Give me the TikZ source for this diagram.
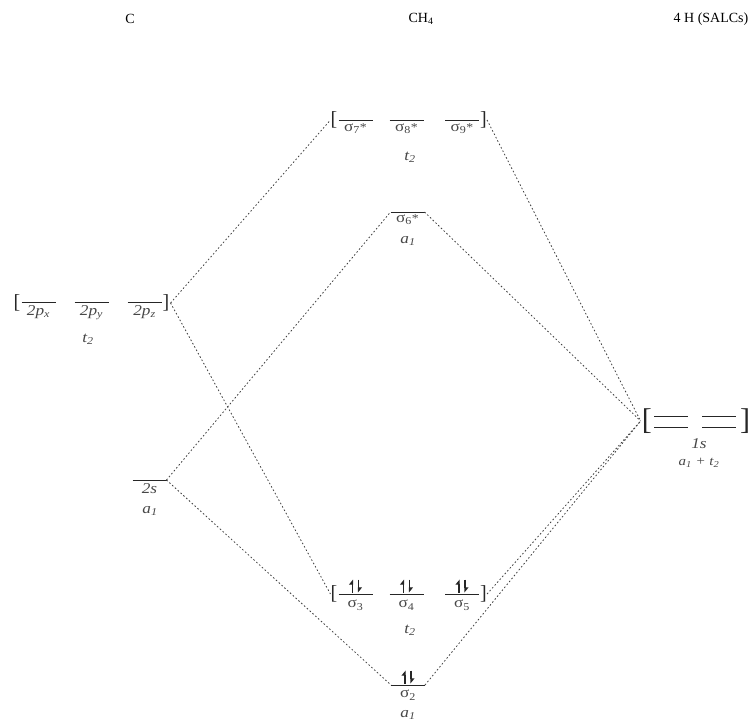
\documentclass[tikz,border=0pt]{standalone}
\usepackage{fontspec}
\setmainfont{Liberation Serif}
\newfontfamily\labfont[FakeStretch=1.15]{Liberation Serif}
\usetikzlibrary{arrows.meta}
\newcommand\mylevel[5]{%
  \node[lvlnode] (#1) at (#2,#3) {};
  \draw[lvl] (#1.west) -- (#1.east);
  \node[lab, anchor=north] (#1lab) at ([yshift=-#5]#1.south) {#4};}
\newcommand\mypair[1]{%
  \draw[spin] ([xshift=-3pt,yshift=1.5pt]#1.center) -- ++(0,13pt);
  \draw[spin] ([xshift=3pt,yshift=14.5pt]#1.center) -- ++(0,-13pt);}
\newcommand\st{{\fontsize{12}{12}\selectfont *}}
\begin{document}
\begin{tikzpicture}[x=1pt,y=-1pt,
  lvlnode/.style={minimum width=34pt, minimum height=0pt, inner sep=0pt, outer sep=0pt},
  lvl/.style={line width=0.9pt, draw=black!85},
  conn/.style={dash pattern=on 1.6pt off 2.2pt, line width=0.8pt, draw=black!75},
  lab/.style={font=\labfont\fontsize{15}{16}\selectfont, text=black!72, inner sep=0pt},
  sym/.style={font=\labfont\fontsize{15}{16}\selectfont, text=black!72, inner sep=0pt},
  title/.style={font=\fontsize{14}{16}\selectfont, inner sep=0pt},
  brk/.style={font=\fontsize{20}{20}\selectfont, inner sep=0pt, text=black!85},
  bigbrk/.style={font=\fontsize{30}{30}\selectfont, inner sep=0pt, text=black!85},
  spin/.style={line width=1.1pt, draw=black!85, -{Triangle[left,length=4.5pt,width=7pt]}},
]
\useasboundingbox (0,0) rectangle (752,726);
\node[title] (tC) at (130,19) {C};
\node[title] (tCH) at (421,19) {CH\textsubscript{4}};
\node[title] (tH) at (711,19) {4 H (SALCs)};
% Carbon 2p
\mylevel{px}{38.5}{302}{\textit{2p\textsubscript{x}}}{3pt}
\mylevel{py}{91.5}{302}{\textit{2p\textsubscript{y}}}{3pt}
\mylevel{pz}{144.5}{302}{\textit{2p\textsubscript{z}}}{3pt}
\node[brk, anchor=east] (pL) at ([xshift=-1pt,yshift=-1pt]px.west) {[};
\node[brk, anchor=west] (pR) at ([xshift=1pt,yshift=-1pt]pz.east) {]};
\node[sym] (pt) at (88,339) {\textit{t\textsubscript{2}}};
% Carbon 2s
\mylevel{s2}{149.5}{480}{\textit{2s}}{3pt}
\node[sym] (s2sym) at (150,511) {\textit{a\textsubscript{1}}};
% antibonding t2
\mylevel{a7}{355.5}{120}{σ\textsubscript{7}\st}{3pt}
\mylevel{a8}{406.5}{120}{σ\textsubscript{8}\st}{3pt}
\mylevel{a9}{462}{120}{σ\textsubscript{9}\st}{3pt}
\node[brk, anchor=east] (aL) at ([xshift=-1pt]a7.west) {[};
\node[brk, anchor=west] (aR) at ([xshift=1pt]a9.east) {]};
\node[sym] (at) at (410,157) {\textit{t\textsubscript{2}}};
% antibonding a1
\mylevel{a6}{407.5}{212}{σ\textsubscript{6}\st}{2pt}
\node[sym] (a6sym) at (408,241) {\textit{a\textsubscript{1}}};
% bonding t2
\mylevel{b3}{355.5}{594}{σ\textsubscript{3}}{6pt}
\mylevel{b4}{406.5}{594}{σ\textsubscript{4}}{6pt}
\mylevel{b5}{462}{594}{σ\textsubscript{5}}{6pt}
\mypair{b3}\mypair{b4}\mypair{b5}
\node[brk, anchor=east] (bL) at ([xshift=-1pt]b3.west) {[};
\node[brk, anchor=west] (bR) at ([xshift=1pt]b5.east) {]};
\node[sym] (bt) at (410,630) {\textit{t\textsubscript{2}}};
% bonding a1
\mylevel{b2}{408}{685}{σ\textsubscript{2}}{5pt}
\mypair{b2}
\node[sym] (b2sym) at (408,715) {\textit{a\textsubscript{1}}};
% hydrogen SALCs
\node[lvlnode, minimum width=34pt] (h1) at (671,416) {};
\node[lvlnode, minimum width=34pt] (h2) at (671,427) {};
\node[lvlnode, minimum width=34pt] (h3) at (719,416) {};
\node[lvlnode, minimum width=34pt] (h4) at (719,427) {};
\foreach \h in {h1,h2,h3,h4} \draw[lvl] (\h.west) -- (\h.east);
\node[bigbrk, anchor=east] (hL) at ([xshift=-2pt]h1.west |- 0,421) {[};
\node[bigbrk, anchor=west] (hR) at ([xshift=4pt]h4.east |- 0,421) {]};
\node[lab] (hlab) at (699,444) {\textit{1s}};
\node[sym, font=\labfont\fontsize{13}{14}\selectfont] (hsym) at (699,463) {\textit{a\textsubscript{1} + t\textsubscript{2}}};
% connectors
\coordinate (pRe) at ([xshift=1pt]pR.east);
\coordinate (hLw) at ([xshift=-1pt]hL.west);
\draw[conn] (pRe) -- (aL.west);
\draw[conn] (pRe) -- (bL.west);
\draw[conn] (s2.east) -- (a6.west);
\draw[conn] (s2.east) -- (b2.west);
\draw[conn] (aR.east) -- (hLw);
\draw[conn] (a6.east) -- (hLw);
\draw[conn] (bR.east) -- (hLw);
\draw[conn] (b2.east) -- (hLw);
\end{tikzpicture}
\end{document}
